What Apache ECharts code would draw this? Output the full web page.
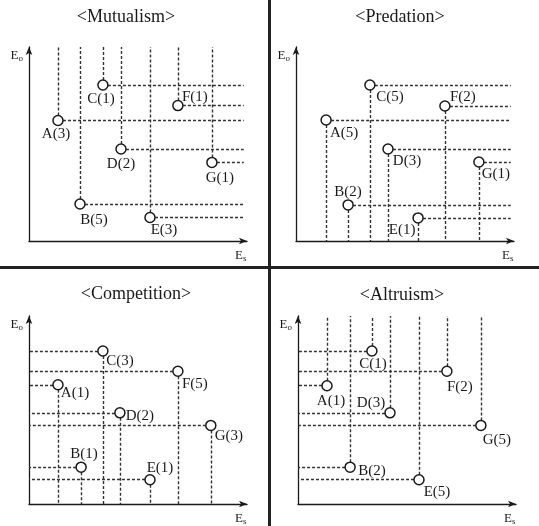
<!DOCTYPE html>
<html>
<head>
<meta charset="utf-8">
<script src="https://cdn.jsdelivr.net/npm/echarts@6/dist/echarts.min.js"></script>
<style>
  html, body { margin: 0; padding: 0; background: #fff; }
  #chart { width: 539px; height: 526px; }
</style>
</head>
<body>
<div id="chart"></div>
<script>
// species / points
const names = ["A", "B", "C", "D", "E", "F", "G"];

// Mutualism
const mutualismX = [1.33, 2.34, 3.39, 4.22, 5.55, 6.83, 8.39];
const mutualismY = [6.21, 1.91, 8.04, 4.74, 1.21, 6.98, 4.05];
const mutualismN = [3, 5, 1, 2, 3, 1, 1];

// Predation
const predationX = [1.38, 2.39, 3.39, 4.22, 5.6, 6.83, 8.39];
const predationY = [6.24, 1.86, 8.04, 4.74, 1.19, 6.96, 4.07];
const predationN = [5, 2, 5, 3, 1, 2, 1];

// Competition
const competitionX = [1.33, 2.39, 3.39, 4.17, 5.55, 6.83, 8.34];
const competitionY = [6.34, 1.96, 8.14, 4.85, 1.29, 7.06, 4.18];
const competitionN = [1, 1, 3, 2, 1, 5, 3];

// Altruism
const altruismX = [1.33, 2.39, 3.39, 4.22, 5.55, 6.83, 8.39];
const altruismY = [6.29, 1.96, 8.14, 4.85, 1.29, 7.06, 4.18];
const altruismN = [1, 2, 1, 3, 5, 2, 5];

// label offsets (px) from point centre
const mutualismLbl = [[-2, 14], [14, 16], [-2, 14], [0, 15], [14, 13], [17, -9], [8, 16]];
const predationLbl = [[18, 13], [0, -13], [20, 12], [19, 12], [-16, 12], [18, -9], [17, 12]];
const competitionLbl = [[17, 8], [3, -13], [17, 10], [20, 3], [10, -12], [17, 13], [18, 11]];
const altruismLbl = [[4, 15], [22, 4], [1, 13], [-19, -10], [18, 12], [13, 16], [16, 15]];

const X_MAX = 10, Y_MAX = 10, H_END = 9.85;

const panels = [
  { title: "<Mutualism>", xs: mutualismX, ys: mutualismY, ns: mutualismN, lbl: mutualismLbl,
    up: true, right: true, grid: { left: 29, top: 47, width: 218, height: 194 }, tx: 126, ty: 17 },
  { title: "<Predation>", xs: predationX, ys: predationY, ns: predationN, lbl: predationLbl,
    up: false, right: true, grid: { left: 296, top: 47, width: 218, height: 194 }, tx: 400, ty: 17 },
  { title: "<Competition>", xs: competitionX, ys: competitionY, ns: competitionN, lbl: competitionLbl,
    up: false, right: false, grid: { left: 29, top: 316, width: 218, height: 194 }, tx: 136, ty: 294 },
  { title: "<Altruism>", xs: altruismX, ys: altruismY, ns: altruismN, lbl: altruismLbl,
    up: true, right: false, grid: { left: 298, top: 316, width: 218, height: 194 }, tx: 402, ty: 295 },
];

const SERIF = "Liberation Serif";
const INK = "#1a1a1a";

const axisRich = {
  b: { fontFamily: SERIF, fontSize: 13, color: INK },
  s: { fontFamily: SERIF, fontSize: 9, color: INK, padding: [6, 0, 0, 0] },
};

const grids = [], xAxes = [], yAxes = [], series = [], graphics = [];

panels.forEach((p, i) => {
  grids.push(p.grid);

  xAxes.push({
    gridIndex: i, type: "value", min: 0, max: X_MAX,
    name: "{b|E}{s|s}", nameLocation: "end", nameGap: -12,
    nameTextStyle: { rich: axisRich, verticalAlign: "top", padding: [7, 0, 0, 0] },
    axisLine: { lineStyle: { color: INK, width: 1.3 }, symbol: ["none", "arrow"], symbolSize: [5, 8] },
    axisTick: { show: false }, axisLabel: { show: false }, splitLine: { show: false },
  });
  yAxes.push({
    gridIndex: i, type: "value", min: 0, max: Y_MAX,
    name: "{b|E}{s|o}", nameLocation: "end", nameGap: -9,
    nameTextStyle: { rich: axisRich, align: "right", verticalAlign: "middle", padding: [0, 6, 0, 0] },
    axisLine: { lineStyle: { color: INK, width: 1.3 }, symbol: ["none", "arrow"], symbolSize: [5, 8] },
    axisTick: { show: false }, axisLabel: { show: false }, splitLine: { show: false },
  });

  // guide lines from each point
  const guides = [];
  p.xs.forEach((x, k) => {
    const y = p.ys[k];
    guides.push([{ coord: [x, y] }, { coord: [x, p.up ? Y_MAX : 0] }]);
    guides.push([{ coord: [x, y] }, { coord: [p.right ? H_END : 0, y] }]);
  });
  series.push({
    type: "scatter", xAxisIndex: i, yAxisIndex: i, data: [], z: 1, silent: true,
    markLine: {
      symbol: "none", silent: true, animation: false, label: { show: false },
      lineStyle: { color: "#333", width: 1.4, type: [3, 2] },
      emphasis: { disabled: true },
      data: guides,
    },
  });

  series.push({
    type: "scatter", xAxisIndex: i, yAxisIndex: i, z: 5,
    symbol: "circle", symbolSize: 10,
    itemStyle: { color: "#fff", borderColor: INK, borderWidth: 1.5, opacity: 1 },
    data: p.xs.map((x, k) => ({
      value: [x, p.ys[k]],
      label: {
        show: true, position: "inside", offset: p.lbl[k],
        formatter: names[k] + "(" + p.ns[k] + ")",
        fontFamily: SERIF, fontSize: 15, color: INK,
      },
    })),
  });

  graphics.push({
    type: "text", x: p.tx, y: p.ty,
    style: { text: p.title, fontFamily: SERIF, fontSize: 18, fill: INK, align: "center", verticalAlign: "middle" },
  });
});

// panel dividers
graphics.push({ type: "rect", shape: { x: 268, y: 0, width: 3, height: 526 }, style: { fill: "#222" } });
graphics.push({ type: "rect", shape: { x: 0, y: 266, width: 539, height: 3 }, style: { fill: "#222" } });

const chart = echarts.init(document.getElementById("chart"), null, { renderer: "canvas" });
chart.setOption({
  backgroundColor: "#fff",
  animation: false,
  grid: grids,
  xAxis: xAxes,
  yAxis: yAxes,
  series: series,
  graphic: graphics,
});
</script>
</body>
</html>
